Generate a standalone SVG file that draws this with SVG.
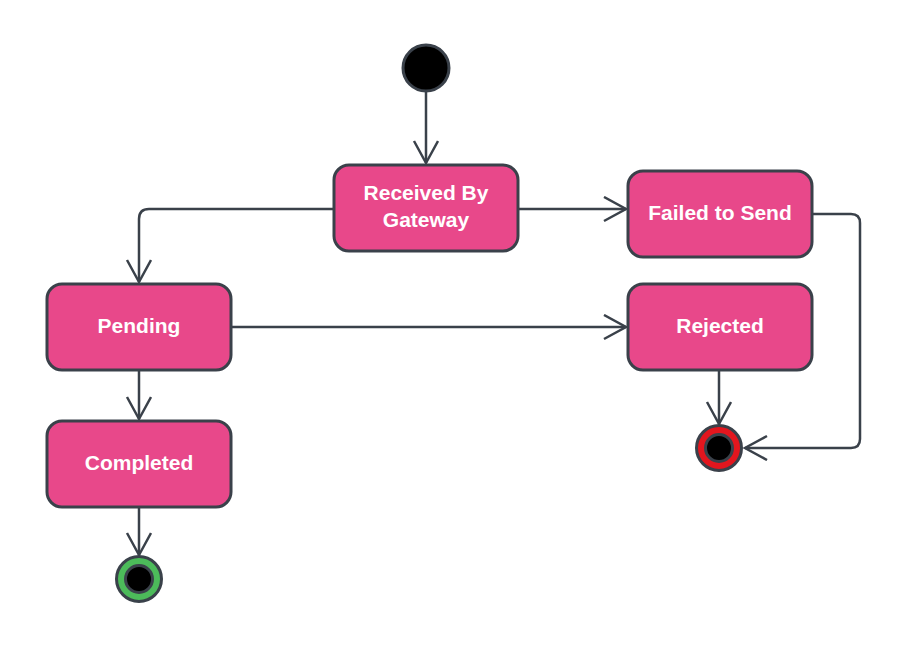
<svg xmlns="http://www.w3.org/2000/svg" width="910" height="649" viewBox="0 0 910 649">
<style>
.node rect{fill:#E8488A;stroke:#3A414A;stroke-width:3}
.node text{fill:#fff;font-family:"Liberation Sans",Arial,sans-serif;font-weight:bold;font-size:21px;text-anchor:middle}
.conn path{fill:none;stroke:#3A414A;stroke-width:2.5;stroke-linejoin:round}
</style>
<defs>
<marker id="arr" markerUnits="userSpaceOnUse" markerWidth="30" markerHeight="30" refX="24" refY="13" orient="auto" viewBox="0 0 30 30">
<path d="M2,1 L24,13 L2,25" fill="none" stroke="#3A414A" stroke-width="2.5"/>
</marker>
</defs>
<rect width="910" height="649" fill="#fff"/>
<g class="conn" id="connectors">
<path d="M426,91 V163" marker-end="url(#arr)"/>
<path d="M519,209 H626" marker-end="url(#arr)"/>
<path d="M333,209 H149 Q139,209 139,219 V282" marker-end="url(#arr)"/>
<path d="M232,327 H626" marker-end="url(#arr)"/>
<path d="M139,371 V419" marker-end="url(#arr)"/>
<path d="M812,214 H851 Q860,214 860,223 V439 Q860,448 851,448 H745" marker-end="url(#arr)"/>
<path d="M719,371 V424" marker-end="url(#arr)"/>
<path d="M139,508 V555" marker-end="url(#arr)"/>
</g>
<g id="start"><circle cx="426" cy="68" r="23" fill="#000" stroke="#3A414A" stroke-width="3"/></g>
<g id="received" class="node"><rect x="334" y="165" width="184" height="86" rx="15"/><text x="426" y="200">Received By</text><text x="426" y="227">Gateway</text></g>
<g id="failed" class="node"><rect x="628" y="171" width="184" height="86" rx="15"/><text x="720" y="220">Failed to Send</text></g>
<g id="pending" class="node"><rect x="47" y="284" width="184" height="86" rx="15"/><text x="139" y="333">Pending</text></g>
<g id="rejected" class="node"><rect x="628" y="284" width="184" height="86" rx="15"/><text x="720" y="333">Rejected</text></g>
<g id="completed" class="node"><rect x="47" y="421" width="184" height="86" rx="15"/><text x="139" y="470">Completed</text></g>
<g id="end-success"><circle cx="139" cy="579" r="22.5" fill="#4CBB5A" stroke="#3A414A" stroke-width="3"/><circle cx="139" cy="579" r="13.5" fill="#000" stroke="#3A414A" stroke-width="3"/></g>
<g id="end-fail"><circle cx="719" cy="448" r="22.5" fill="#E3161E" stroke="#3A414A" stroke-width="3"/><circle cx="719" cy="448" r="13.5" fill="#000" stroke="#3A414A" stroke-width="3"/></g>
</svg>
